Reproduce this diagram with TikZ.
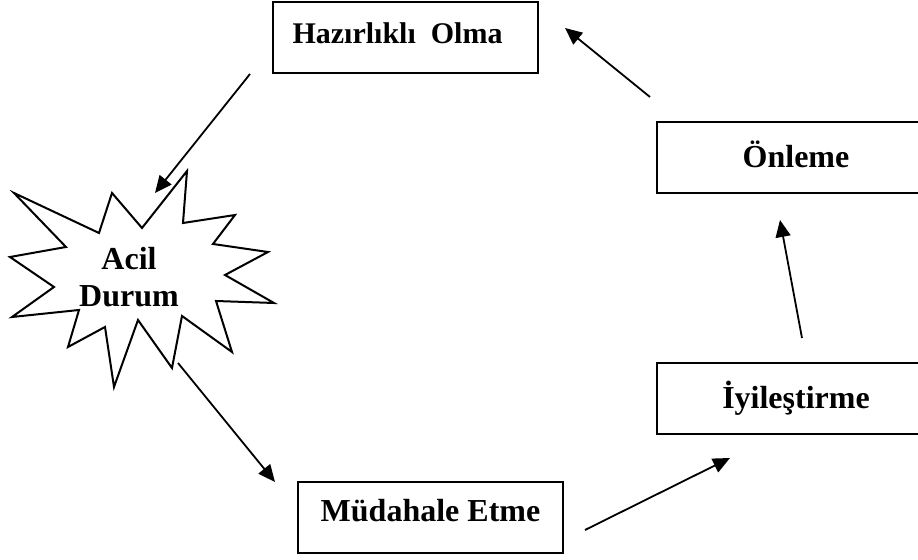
\documentclass[tikz,border=0pt]{standalone}
\usepackage{fontspec}
\setmainfont{Liberation Serif}
\usetikzlibrary{arrows.meta}

\begin{document}
\begin{tikzpicture}[x=0.5pt, y=-0.5pt, line width=1pt,
    main/.style = {draw, rectangle, minimum width=132.5pt, minimum height=35.5pt, text depth=4pt, font=\bfseries\fontsize{16}{18.5}\selectfont},
    wide/.style = {main, minimum width=139pt},
    arr/.style = {-{Triangle[length=8.5pt, width=7.5pt]}, line width=0.9pt}]
    \clip (0,0) rectangle (918,560);
    \node[main, font=\bfseries\fontsize{15}{18}\selectfont] (haz) at (405.5,37.5) {Hazırlıklı\ \ Olma\hspace*{8pt}};
    \node[wide] (onl) at (796,158) {Önleme};
    \node[wide] (iyi) at (796,398.5) {İyileştirme};
    \node[main, text depth=7pt] (mud) at (430.5,517.5) {Müdahale Etme};
    % patlama sekli
    \draw[line join=miter] (187,171) -- (183,223) -- (235,215) -- (213,244) -- (268,252) -- (225,275)
        -- (274,303) -- (216,301) -- (232,352) -- (182,316) -- (172,368) -- (138,320)
        -- (114,387) -- (105,327) -- (68,347) -- (79,310) -- (12,317) -- (54,287)
        -- (10,257) -- (66,247) -- (14,193) -- (99,233) -- (112,193) -- (142,228) -- cycle;
    \node[align=center, font=\bfseries\fontsize{16}{18.5}\selectfont] (acil) at (129,277) {Acil\\Durum};
    % ok uclari
    \coordinate (hazOut) at (250,74);
    \coordinate (acilIn) at (155,193);
    \coordinate (acilOut) at (178,363);
    \coordinate (mudIn) at (275,482);
    \coordinate (mudOut) at (585,530);
    \coordinate (iyiIn) at (730,458);
    \coordinate (iyiOut) at (802,338);
    \coordinate (onlIn) at (780,220);
    \coordinate (onlOut) at (650,97);
    \coordinate (hazIn) at (565,28);
    \draw[arr] (hazOut) -- (acilIn);
    \draw[arr] (acilOut) -- (mudIn);
    \draw[arr] (mudOut) -- (iyiIn);
    \draw[arr] (iyiOut) -- (onlIn);
    \draw[arr] (onlOut) -- (hazIn);
\end{tikzpicture}
\end{document}
